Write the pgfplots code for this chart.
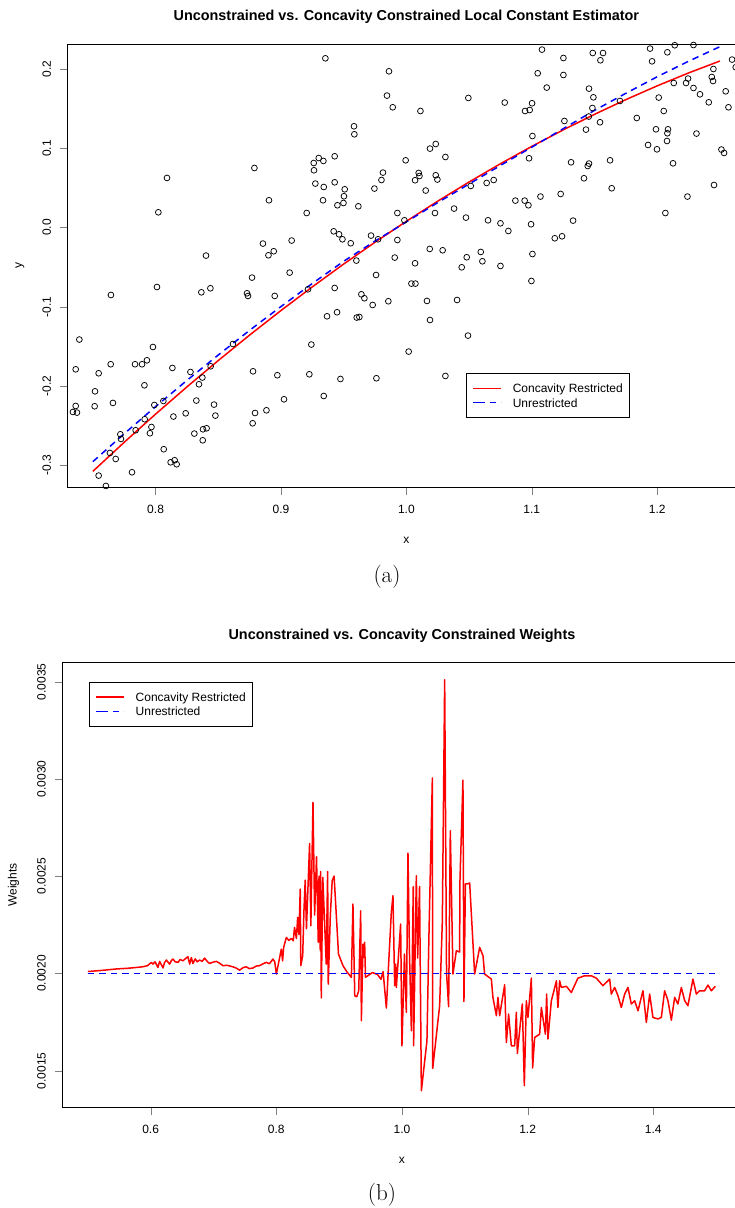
\documentclass[border=0pt]{standalone}
\usepackage{fontspec}
\setsansfont{Liberation Sans}
\usepackage{pgfplots}
\pgfplotsset{compat=1.18}

% R-like base style (1pt = 1px of the reference)
\pgfplotsset{
  rbase/.style={
    scale only axis,
    axis line style={line width=0.9pt},
    tick align=outside,
    tick pos=left,
    major tick length=7.5pt,
    /pgf/number format/assume math mode=true,
    ticklabel style={font=\fontsize{12}{14}\sffamily},
    xticklabel style={anchor=base, yshift=-18.5pt},
    yticklabel style={xshift=-9.5pt, rotate=90, anchor=base},
    every axis title/.style={at={(axis description cs:0.5,1)}, anchor=base,
      yshift=23.5pt, font=\fontsize{14.4}{17}\sffamily\bfseries},
    every axis x label/.style={at={(axis description cs:0.5,0)}, anchor=base,
      yshift=-56pt, font=\fontsize{12}{14}\sffamily},
    every axis y label/.style={at={(axis description cs:0,0.5)}, xshift=-46pt,
      rotate=90, anchor=base, font=\fontsize{12}{14}\sffamily},
    legend style={draw=black, fill=white,
      inner xsep=6pt, inner ysep=10.5pt, row sep=5.8pt,
      nodes={font=\fontsize{12}{14}\sffamily, inner sep=0pt,
        text height=8.6pt, text depth=0pt, anchor=west},
      /tikz/every odd column/.append style={column sep=10.7pt}},
    legend image code/.code={\path (0pt,0pt) -- (5pt,0pt);
      \draw[##1] (5pt,0pt) -- (28pt,0pt);},
  },
}

\begin{document}
\begin{tikzpicture}
\useasboundingbox (0pt,0pt) rectangle (735pt,1208pt);

% ---------------- (b) weights panel, drawn first ----------------
\begin{axis}[rbase,
  at={(62.7pt,100.3pt)}, anchor=south west,
  width=678.5pt, height=445pt,
  xmin=0.46, xmax=1.54, ymin=0.0013098, ymax=0.0035977,
  xtick={0.6,0.8,1.0,1.2,1.4}, ytick={0.0015,0.0020,0.0025,0.0030,0.0035},
  scaled y ticks=false,
  xticklabel style={/pgf/number format/fixed, /pgf/number format/fixed zerofill, /pgf/number format/precision=1},
  yticklabel style={/pgf/number format/fixed, /pgf/number format/fixed zerofill, /pgf/number format/precision=4},
  title={Unconstrained vs. Concavity Constrained Weights},
  xlabel={x}, ylabel={Weights},
  legend style={at={(axis description cs:0.0392,0.9566)}, anchor=north west},
]
\addlegendimage{draw=red, line width=1.5pt, solid, line join=round}
\addlegendentry{Concavity Restricted}
\addlegendimage{draw=blue, line width=1.5pt, dash pattern=on 6.5pt off 5pt}
\addlegendentry{Unrestricted}
\addplot[draw=red, line width=1.5pt, solid, line join=round, forget plot] table {
x y
0.500 0.002010
0.520 0.002015
0.545 0.002023
0.565 0.002027
0.587 0.002034
0.595 0.002040
0.6011 0.002057
0.6037 0.002048
0.607 0.002060
0.6116 0.002031
0.6143 0.002062
0.617 0.002045
0.6196 0.002028
0.622 0.002055
0.625 0.002069
0.6302 0.002048
0.633 0.002066
0.6355 0.002074
0.639 0.002060
0.6435 0.002057
0.647 0.002072
0.6514 0.002065
0.655 0.002075
0.6594 0.002086
0.6621 0.002048
0.6648 0.002082
0.6673 0.002051
0.671 0.002075
0.674 0.002060
0.678 0.002069
0.682 0.002062
0.6859 0.002079
0.690 0.002062
0.6939 0.002051
0.699 0.002058
0.7046 0.002062
0.710 0.002052
0.7151 0.002040
0.722 0.002042
0.731 0.002034
0.736 0.002028
0.7417 0.002017
0.747 0.002030
0.7523 0.002034
0.757 0.002025
0.7628 0.002028
0.768 0.002038
0.7735 0.002040
0.779 0.002050
0.7842 0.002057
0.789 0.002050
0.7947 0.002074
0.7975 0.002060
0.8001 0.001997
0.804 0.002060
0.808 0.002125
0.810 0.002065
0.8117 0.002134
0.816 0.002185
0.820 0.002170
0.824 0.002180
0.827 0.002168
0.829 0.002237
0.832 0.002180
0.834 0.002288
0.836 0.002200
0.8381 0.002434
0.839 0.002040
0.842 0.002091
0.844 0.002322
0.846 0.002480
0.848 0.002230
0.853 0.002668
0.855 0.002245
0.8584 0.002879
0.861 0.002300
0.864 0.002600
0.8668 0.002160
0.868 0.002500
0.870 0.002117
0.8706 0.002524
0.8716 0.001874
0.874 0.002494
0.8795 0.002048
0.8817 0.002524
0.8827 0.001945
0.886 0.002300
0.889 0.002477
0.892 0.002501
0.899 0.002100
0.9061 0.002040
0.912 0.002010
0.9195 0.001980
0.922 0.002357
0.9249 0.001885
0.928 0.001880
0.9312 0.001911
0.9343 0.002322
0.9354 0.001757
0.938 0.002151
0.939 0.002082
0.9406 0.002160
0.942 0.001980
0.9532 0.002005
0.9612 0.001994
0.9666 0.001970
0.970 0.002010
0.9752 0.001822
0.978 0.002000
0.9831 0.002314
0.9857 0.002400
0.9884 0.001937
0.990 0.002048
0.9911 0.001928
0.9979 0.002254
1.000 0.001628
1.004 0.002100
1.007 0.001800
1.0096 0.002619
1.012 0.002100
1.015 0.001705
1.018 0.002446
1.0186 0.001628
1.0229 0.002502
1.025 0.002079
1.028 0.002447
1.0309 0.001397
1.0398 0.001654
1.043 0.002200
1.0484 0.003005
1.049 0.001512
1.060 0.001834
1.0643 0.002271
1.068 0.003510
1.071 0.002000
1.0743 0.001829
1.077 0.002734
1.0812 0.001997
1.0866 0.002117
1.0918 0.002110
1.0923 0.002472
1.0971 0.002994
1.0987 0.001856
1.101 0.002460
1.104 0.002460
1.1078 0.002465
1.1157 0.001997
1.1237 0.002134
1.129 0.002091
1.1316 0.001997
1.1423 0.001971
1.1448 0.001877
1.1503 0.001783
1.1528 0.001877
1.1555 0.001783
1.1635 0.001942
1.1662 0.001645
1.1698 0.001791
1.1741 0.001628
1.1794 0.001628
1.1821 0.001800
1.1837 0.001589
1.1916 0.001843
1.1948 0.001423
1.198 0.001860
1.2006 0.001774
1.206 0.001976
1.208 0.001514
1.2112 0.001671
1.2192 0.001688
1.2219 0.001825
1.2283 0.001688
1.2303 0.001894
1.2324 0.001663
1.2378 0.001860
1.2419 0.001911
1.2458 0.001962
1.2483 0.001825
1.251 0.001962
1.2537 0.001928
1.2617 0.001934
1.2696 0.001902
1.2801 0.001976
1.2908 0.001988
1.3015 0.001988
1.3094 0.001976
1.3199 0.001937
1.3306 0.001971
1.3333 0.001894
1.3386 0.001928
1.3438 0.001886
1.3492 0.001825
1.3545 0.001894
1.3597 0.001928
1.3651 0.001843
1.3704 0.001860
1.3757 0.001808
1.3836 0.001911
1.389 0.001748
1.3943 0.001894
1.3995 0.001774
1.4075 0.001766
1.4129 0.001774
1.4181 0.001911
1.4234 0.001860
1.4288 0.001760
1.4341 0.001877
1.4393 0.001843
1.4447 0.001928
1.45 0.001860
1.4552 0.001834
1.4632 0.001971
1.4686 0.001894
1.4739 0.001911
1.4818 0.001911
1.4871 0.001940
1.4925 0.001911
1.4988 0.001934
};
\addplot[draw=blue, line width=1.5pt, dash pattern=on 6.5pt off 5pt, forget plot] table {
x y
0.5 0.002
1.5 0.002
};
\end{axis}

% ---------------- (a) estimator panel ----------------
\begin{axis}[rbase,
  at={(67.8pt,720.3pt)}, anchor=south west,
  width=677.2pt, height=443.7pt,
  xmin=0.73, xmax=1.27, ymin=-0.3287, ymax=0.232,
  xtick={0.8,0.9,1.0,1.1,1.2}, ytick={-0.3,-0.2,-0.1,0,0.1,0.2},
  xticklabel style={/pgf/number format/fixed, /pgf/number format/fixed zerofill, /pgf/number format/precision=1},
  yticklabel style={/pgf/number format/fixed, /pgf/number format/fixed zerofill, /pgf/number format/precision=1},
  title={Unconstrained vs. Concavity Constrained Local Constant Estimator},
  xlabel={x}, ylabel={y},
  legend style={at={(axis description cs:0.5886,0.2578)}, anchor=north west},
]
\addlegendimage{draw=red, line width=1.5pt, solid, line join=round}
\addlegendentry{Concavity Restricted}
\addlegendimage{draw=blue, line width=1.5pt, dash pattern=on 6.5pt off 5pt}
\addlegendentry{Unrestricted}
\addplot[only marks, mark=o, mark size=2.9pt, mark options={draw=black, line width=0.75pt}, forget plot] table {
x y
0.9354 0.2139
0.9861 0.1975
0.9845 0.1668
0.9891 0.1520
0.9582 0.1280
0.9585 0.1179
0.9301 0.0879
0.9261 0.0816
0.9338 0.0842
0.9428 0.0901
0.9263 0.0724
0.8788 0.0753
0.8091 0.0627
0.9813 0.0695
0.9801 0.0601
0.9274 0.0556
0.9341 0.0513
0.9428 0.0572
0.9508 0.0484
0.9745 0.0493
0.9502 0.0396
0.8904 0.0345
0.9335 0.0345
0.9498 0.0311
0.9450 0.0282
0.9617 0.0269
0.8022 0.0193
0.9205 0.0184
0.9928 0.0184
0.9420 -0.0047
0.9463 -0.0085
0.9490 -0.0148
0.9556 -0.0198
0.9718 -0.0101
0.9774 -0.0148
0.9928 -0.0157
0.8856 -0.0202
0.9085 -0.0164
0.8900 -0.0350
0.8942 -0.0299
0.8402 -0.0354
0.9601 -0.0417
0.9907 -0.0379
1.1081 0.2249
1.1252 0.2143
1.1486 0.2206
1.1568 0.2206
1.1547 0.2114
1.1943 0.2262
1.2081 0.2215
1.2289 0.2307
1.2140 0.2304
1.1959 0.2101
1.2597 0.2123
1.2626 0.2026
1.1047 0.1950
1.1252 0.1928
1.1119 0.1769
1.1456 0.1756
1.1491 0.1646
1.1483 0.1511
1.1454 0.1403
1.0494 0.1638
1.0784 0.1580
1.0946 0.1473
1.0983 0.1486
1.1002 0.1571
1.0112 0.1473
1.1703 0.1600
1.1837 0.1385
1.2012 0.1643
1.2052 0.1473
1.2132 0.1827
1.2230 0.1827
1.2246 0.1883
1.2289 0.1764
1.2341 0.1684
1.2411 0.1583
1.2435 0.1903
1.2445 0.1852
1.2448 0.2004
1.2546 0.1722
1.2568 0.1520
1.1260 0.1347
1.1432 0.1238
1.1544 0.1331
1.1005 0.1157
1.0978 0.0876
1.1990 0.1242
1.2086 0.1242
1.2081 0.1192
1.2078 0.1094
1.2313 0.1188
1.1927 0.1044
1.1998 0.0989
1.2126 0.0812
1.2512 0.0986
1.2533 0.0943
1.2453 0.0538
1.2241 0.0392
1.2065 0.0184
1.1624 0.0850
1.1637 0.0497
1.1456 0.0809
1.1446 0.0778
1.1313 0.0825
1.1416 0.0623
0.9994 0.0850
1.0188 0.0998
1.0234 0.1056
1.0311 0.0892
1.0098 0.0690
1.0104 0.0652
1.0069 0.0598
1.0234 0.0661
1.0247 0.0607
1.0154 0.0468
1.0513 0.0526
1.0640 0.0564
1.0696 0.0601
1.0869 0.0341
1.0943 0.0341
1.0973 0.0282
1.1069 0.0392
1.1230 0.0425
0.9984 0.0092
1.0228 0.0184
1.0380 0.0240
1.0475 0.0126
1.0651 0.0092
1.0750 0.0054
1.0813 -0.0043
1.0994 0.0042
1.1329 0.0088
1.1183 -0.0135
1.1241 -0.0110
1.0186 -0.0270
1.0289 -0.0287
1.0593 -0.0308
1.1005 -0.0334
1.0069 -0.0451
1.0481 -0.0375
1.0606 -0.0426
1.0441 -0.0502
1.0750 -0.0485
1.0997 -0.0675
1.0040 -0.0708
1.0072 -0.0708
1.0164 -0.0927
1.0404 -0.0915
1.0188 -0.1168
1.0491 -0.1365
1.0018 -0.1567
1.0311 -0.1875
0.8011 -0.0751
0.7644 -0.0852
0.8365 -0.0818
0.8437 -0.0767
0.8769 -0.0632
0.9069 -0.0569
0.8729 -0.0830
0.8737 -0.0864
0.8950 -0.0864
0.9215 -0.0780
0.9428 -0.0763
0.9758 -0.0599
0.9641 -0.0843
0.9665 -0.0893
0.9731 -0.0978
0.9856 -0.0931
0.9367 -0.1121
0.9447 -0.1070
0.9604 -0.1137
0.9625 -0.1130
0.7392 -0.1415
0.7363 -0.1791
0.7546 -0.1841
0.7642 -0.1727
0.7836 -0.1727
0.7892 -0.1727
0.7931 -0.1677
0.7979 -0.1509
0.7911 -0.1993
0.7517 -0.2069
0.7514 -0.2258
0.7363 -0.2254
0.7341 -0.2330
0.7373 -0.2338
0.7660 -0.2216
0.8134 -0.1774
0.8278 -0.1825
0.8373 -0.1895
0.8346 -0.1980
0.8439 -0.1753
0.8617 -0.1471
0.8777 -0.1816
0.8971 -0.1866
0.9226 -0.1854
0.9242 -0.1478
0.9474 -0.1913
0.9761 -0.1904
0.9341 -0.2128
0.9024 -0.2170
0.8884 -0.2309
0.8793 -0.2343
0.8774 -0.2473
0.8466 -0.2237
0.8477 -0.2376
0.8325 -0.2186
0.8240 -0.2347
0.8142 -0.2388
0.8062 -0.2191
0.7990 -0.2242
0.7913 -0.2422
0.7967 -0.2520
0.7955 -0.2599
0.7841 -0.2561
0.7719 -0.2612
0.7724 -0.2671
0.7636 -0.2848
0.7682 -0.2924
0.8309 -0.2603
0.8378 -0.2549
0.8407 -0.2536
0.8376 -0.2688
0.8065 -0.2801
0.8120 -0.2966
0.8152 -0.2940
0.8168 -0.2991
0.7812 -0.3092
0.7546 -0.3134
0.7604 -0.3265
0.7416 -0.3319
};
\addplot[draw=red, line width=1.5pt, solid, line join=round, forget plot] table {
x y
0.750 -0.3080
0.775 -0.2713
0.800 -0.2357
0.825 -0.2013
0.850 -0.1680
0.875 -0.1358
0.900 -0.1048
0.925 -0.0749
0.950 -0.0461
0.975 -0.0185
1.000 0.0080
1.025 0.0334
1.050 0.0576
1.075 0.0807
1.100 0.1026
1.125 0.1234
1.150 0.1431
1.175 0.1617
1.200 0.1791
1.225 0.1954
1.250 0.2105
};
\addplot[draw=blue, line width=1.5pt, dash pattern=on 6.5pt off 5pt, forget plot] table {
x y
0.750 -0.2958
0.775 -0.2605
0.800 -0.2262
0.825 -0.1931
0.850 -0.1610
0.875 -0.1298
0.900 -0.0998
0.925 -0.0706
0.950 -0.0426
0.975 -0.0170
1.000 0.0072
1.025 0.0316
1.050 0.0551
1.075 0.0785
1.100 0.1016
1.125 0.1249
1.150 0.1481
1.175 0.1697
1.200 0.1906
1.225 0.2102
1.250 0.2286
};
\end{axis}
\node[anchor=base, font=\fontsize{23}{27}\selectfont] at (387pt,625.6pt) {(a)};
\node[anchor=base, font=\fontsize{23}{27}\selectfont] at (382pt,7.3pt) {(b)};
\end{tikzpicture}
\end{document}
